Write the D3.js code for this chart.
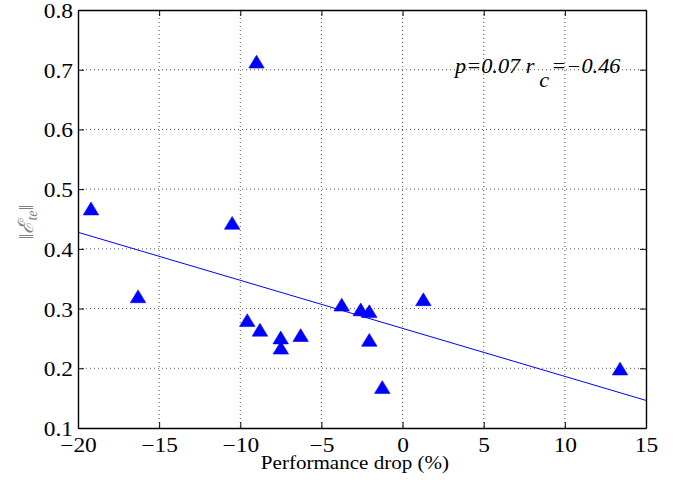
<!DOCTYPE html>
<html>
<head>
<meta charset="utf-8">
<script src="https://cdn.jsdelivr.net/npm/d3@7"></script>
</head>
<body style="margin:0;background:#fff">
<svg id="chart" width="681" height="488" style="display:block"></svg>
<script>
// ---- data ----
const perfDrop = [-19.2, -16.3, -10.5, -9.0, -9.57, -8.79, -7.51, -7.5, -6.28, -3.75, -2.58, -2.05, -2.05, -1.25, 1.28, 13.4];
const errNorm  = [0.464, 0.317, 0.440, 0.710, 0.277, 0.261, 0.248, 0.231, 0.252, 0.303, 0.295, 0.292, 0.244, 0.165, 0.312, 0.196];
const xTicks = [-20, -15, -10, -5, 0, 5, 10, 15];
const yTicks = [0.1, 0.2, 0.3, 0.4, 0.5, 0.6, 0.7, 0.8];
const xDomain = [-20, 15];
const yDomain = [0.1, 0.8];
const annotation = { p: "0.07", r: "\u22120.46" };

// ---- layout ----
const FONT = "Liberation Serif";
const svg = d3.select("#chart");
const L = 78, R = 646, T = 10, B = 428;
const SX = 1.17; // horizontal glyph stretch seen in the reference

function stretch(sel) {
  sel.each(function() {
    const w = this.getComputedTextLength();
    d3.select(this).attr("textLength", w * SX).attr("lengthAdjust", "spacingAndGlyphs");
  });
}

const x = d3.scaleLinear().domain(xDomain).range([L, R]);
const y = d3.scaleLinear().domain(yDomain).range([B, T]);

// grid
const grid = svg.append("g").attr("stroke", "#444").attr("stroke-width", 0.9)
  .attr("stroke-dasharray", "1,3").attr("fill", "none");
xTicks.filter(v => v > xDomain[0] && v < xDomain[1]).forEach(v => {
  grid.append("line").attr("x1", x(v)).attr("x2", x(v)).attr("y1", T).attr("y2", B);
});
yTicks.filter(v => v > yDomain[0] && v < yDomain[1]).forEach(v => {
  grid.append("line").attr("x1", L).attr("x2", R).attr("y1", y(v)).attr("y2", y(v));
});

// regression line (least squares from the data)
const n = perfDrop.length;
const mx = d3.mean(perfDrop), my = d3.mean(errNorm);
let sxy = 0, sxx = 0;
for (let i = 0; i < n; i++) { sxy += (perfDrop[i]-mx)*(errNorm[i]-my); sxx += (perfDrop[i]-mx)**2; }
const slope = sxy / sxx, icpt = my - slope * mx;
svg.append("line")
  .attr("x1", x(xDomain[0])).attr("y1", y(icpt + slope*xDomain[0]))
  .attr("x2", x(xDomain[1])).attr("y2", y(icpt + slope*xDomain[1]))
  .attr("stroke", "#0000ff").attr("stroke-width", 1);

// triangle markers (centroid at data point)
const triW = 15.5, triH = 12.8;
const tri = `M0,${-2*triH/3}L${triW/2},${triH/3}L${-triW/2},${triH/3}Z`;
svg.append("g").selectAll("path").data(d3.range(n)).join("path")
  .attr("d", tri)
  .attr("transform", i => `translate(${x(perfDrop[i])},${y(errNorm[i])})`)
  .attr("fill", "#0000ff").attr("stroke", "#0000ff").attr("stroke-width", 0.6)
  .attr("stroke-linejoin", "miter");

// axes
const fmtY = d3.format(".1f");
const axB = svg.append("g").attr("transform", `translate(0,${B})`)
  .call(d3.axisBottom(x).tickValues(xTicks).tickSizeInner(-6).tickSizeOuter(0));
const axL = svg.append("g").attr("transform", `translate(${L},0)`)
  .call(d3.axisLeft(y).tickValues(yTicks).tickFormat(fmtY).tickSizeInner(-6).tickSizeOuter(0));
const axT = svg.append("g").attr("transform", `translate(0,${T})`)
  .call(d3.axisTop(x).tickValues(xTicks).tickFormat("").tickSizeInner(-6).tickSizeOuter(0));
const axR = svg.append("g").attr("transform", `translate(${R},0)`)
  .call(d3.axisRight(y).tickValues(yTicks).tickFormat("").tickSizeInner(-6).tickSizeOuter(0));
[axB, axL, axT, axR].forEach(a => {
  a.attr("font-family", FONT);
  a.select(".domain").attr("stroke", "#000").attr("stroke-width", 1.4);
  a.selectAll(".tick line").attr("stroke", "#000").attr("stroke-width", 1);
});
axB.selectAll(".tick text")
  .style("font-family", FONT).attr("font-size", 20).attr("fill", "#000")
  .attr("y", 24).attr("dy", 0).call(stretch);
axL.selectAll(".tick text")
  .style("font-family", FONT).attr("font-size", 20).attr("fill", "#000")
  .attr("x", -5).attr("dy", 0).attr("y", 7.5).call(stretch);

// x label
svg.append("text")
  .style("font-family", FONT)
  .attr("x", 355).attr("y", 469)
  .attr("text-anchor", "middle").attr("font-size", 18).attr("fill", "#000")
  .text("Performance drop (%)").call(stretch);

// y label  ||E_te||
const yl = svg.append("text")
  .style("font-family", FONT)
  .attr("transform", `translate(33,222) rotate(-90)`)
  .attr("text-anchor", "middle").attr("font-size", 21).attr("fill", "#808080");
yl.append("tspan").text("\u2016");
yl.append("tspan").attr("font-style", "italic").text("\u2130");
yl.append("tspan").attr("font-style", "italic").attr("font-size", 14).attr("dy", 4).text("te");
yl.append("tspan").attr("dy", -4).text("\u2016");

// annotation  p=0.07 r_c=-0.46
const ann = svg.append("text")
  .style("font-family", FONT)
  .attr("x", 455).attr("y", 73)
  .attr("font-size", 20).attr("font-style", "italic").attr("fill", "#000");
ann.append("tspan").text(`p=${annotation.p} r`);
ann.append("tspan").attr("dy", 14).attr("dx", 5).text("c");
ann.append("tspan").attr("dy", -14).attr("dx", 2).text(`=${annotation.r}`);
ann.call(stretch);
</script>
</body>
</html>
